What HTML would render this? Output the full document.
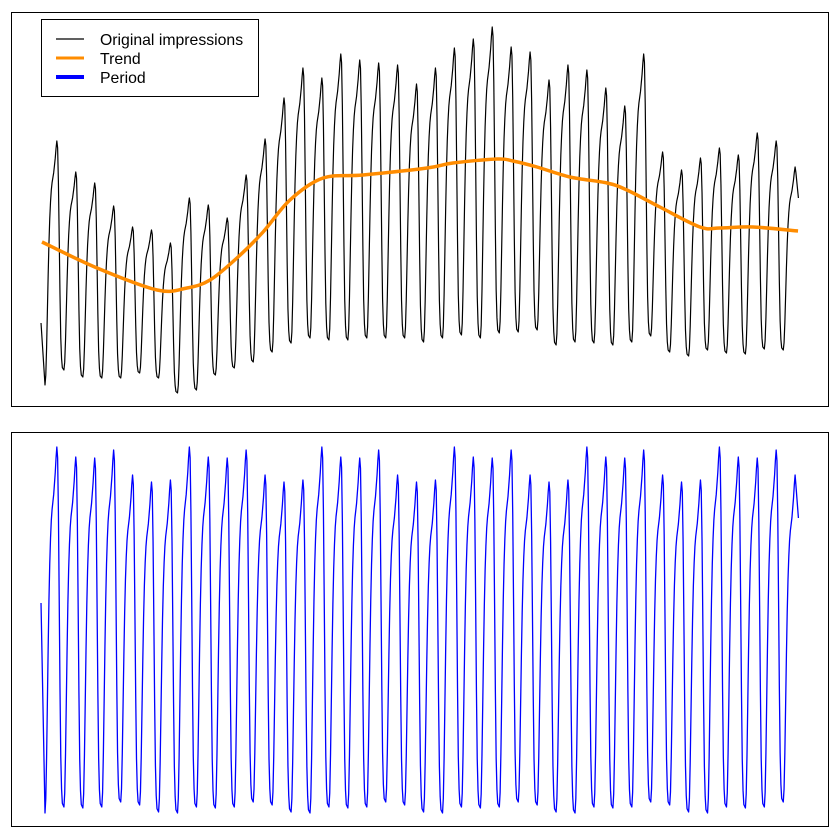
<!DOCTYPE html>
<html><head><meta charset="utf-8"><style>
html,body{margin:0;padding:0;background:#fff}
svg{display:block}
text{font-family:"Liberation Sans",Arial,sans-serif;font-size:15.8px;fill:#000}
</style></head><body>
<svg id="c" width="840" height="840" viewBox="0 0 840 840">
<rect x="11.5" y="12.5" width="817" height="394" fill="#fff" stroke="#000" stroke-width="1"/>
<rect x="11.5" y="432.5" width="817" height="394" fill="#fff" stroke="#000" stroke-width="1"/>
<g id="topPlot"></g>
<g id="botPlot"></g>
<g>
<rect x="41.5" y="19.5" width="217" height="77" fill="#fff" stroke="#000"/>
<g><line x1="56" y1="39" x2="84" y2="39" stroke="#000" stroke-width="1.2"/><text x="100" y="45">Original impressions</text></g>
<g><line x1="56" y1="58" x2="84" y2="58" stroke="#ff8c00" stroke-width="3"/><text x="100" y="64">Trend</text></g>
<g><line x1="56" y1="77" x2="84" y2="77" stroke="#0000ff" stroke-width="4"/><text x="100" y="83">Period</text></g>
</g>
</svg>
<script>
// per-day (cycle) peaks and troughs of original impressions
const origPeaks=[259,228,217,194,173,170,157,202,195,182,225,261,302,332,322,346,340,337,335,316,332,352,361,373,353,348,320,335,330,312,294,346,248,230,242,252,245,267,259,233];
const origTroughs=[15,30,23,22,22,27,22,7,10,25,32,38,48,57,62,60,60,62,62,62,58,62,65,62,67,68,70,55,58,57,55,58,64,48,44,50,47,46,51,50];
const origStart=77;
const origEnd=202;
// weekly period component
const weekPeaks=[383,373,372,380,355,348,350];
const weekTroughs=[17,23,22,23,28,25,18];
const periodStart=227;
const periodEnd=312;
// trend (time in days, value)
const trendT=[-0.16,2.75,5.92,7.5,8.72,10.14,11.52,12.94,14.69,16.8,20.18,21.55,23.88,24.72,25.99,27.73,29.69,30.74,32.48,34.6,35.65,37.4,39.78];
const trendV=[158,132,110,112,120,142,168,200,222,225,232,237,241,239,233,223,217,210,193,173,172,173,169];
// normalized hourly daily shape
const dayShape=[0,0.04,0.15,0.3,0.45,0.58,0.68,0.75,0.8,0.83,0.85,0.87,0.9,0.93,0.97,1.0,0.97,0.82,0.58,0.33,0.14,0.05,0.01];
const PEAK_H=15;

const xS=t=>45+t*18.93;
const yTop=v=>400-v;
const yBot=v=>830-v;
const NS='http://www.w3.org/2000/svg';

function series(peaks,troughs,start,end){
  const pts=[[-0.21,start]];
  const n=peaks.length;
  for(let k=0;k<n;k++){
    for(let h=0;h<dayShape.length;h++){
      const base=h<=PEAK_H?troughs[k]:(k+1<n?troughs[k+1]:troughs[k]);
      pts.push([k+h/24,base+(peaks[k]-base)*dayShape[h]]);
      if(k===n-1&&h===PEAK_H+1){pts.push([k+0.8,end]);return pts;}
    }
  }
  return pts;
}
function poly(g,pts,ys,color,w,name){
  const p=document.createElementNS(NS,'polyline');
  p.setAttribute('points',pts.map(q=>xS(q[0]).toFixed(2)+','+ys(q[1]).toFixed(2)).join(' '));
  p.setAttribute('fill','none');p.setAttribute('stroke',color);p.setAttribute('stroke-width',w);
  p.setAttribute('stroke-linejoin','round');
  
  
  g.appendChild(p);
}
const topG=document.getElementById('topPlot');
poly(topG,series(origPeaks,origTroughs,origStart,origEnd),yTop,'#000',1.2,'original-impressions-line');

// trend smooth curve (Catmull-Rom)
let d='M'+xS(trendT[0])+','+yTop(trendV[0]);
for(let i=0;i<trendT.length-1;i++){
  const p0=[trendT[Math.max(0,i-1)],trendV[Math.max(0,i-1)]],p1=[trendT[i],trendV[i]],p2=[trendT[i+1],trendV[i+1]],p3=[trendT[Math.min(trendT.length-1,i+2)],trendV[Math.min(trendT.length-1,i+2)]];
  const c1=[p1[0]+(p2[0]-p0[0])/6,p1[1]+(p2[1]-p0[1])/6],c2=[p2[0]-(p3[0]-p1[0])/6,p2[1]-(p3[1]-p1[1])/6];
  d+=' C'+xS(c1[0])+','+yTop(c1[1])+' '+xS(c2[0])+','+yTop(c2[1])+' '+xS(p2[0])+','+yTop(p2[1]);
}
const tr=document.createElementNS(NS,'path');
tr.setAttribute('d',d);tr.setAttribute('fill','none');tr.setAttribute('stroke','#ff8c00');tr.setAttribute('stroke-width','3.5');


topG.appendChild(tr);

const nDays=origPeaks.length;
const pP=[],pT=[];
for(let k=0;k<nDays;k++){pP.push(weekPeaks[k%7]);pT.push(weekTroughs[k%7]);}
poly(document.getElementById('botPlot'),series(pP,pT,periodStart,periodEnd),yBot,'#0000ff',1.3,'period-line');
</script>
</body></html>
